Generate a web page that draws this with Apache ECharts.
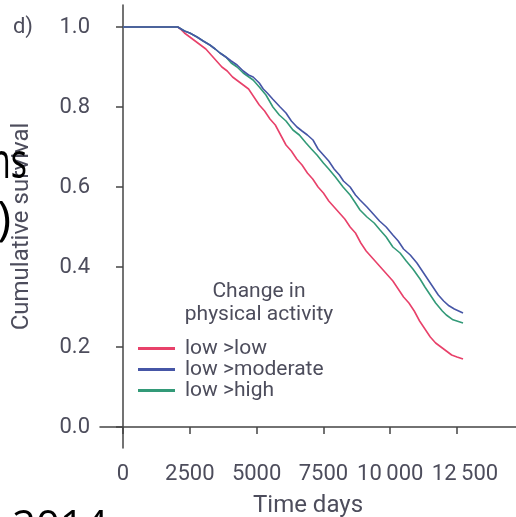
<!DOCTYPE html>
<html><head><meta charset="utf-8">
<script src="https://cdn.jsdelivr.net/npm/echarts@6/dist/echarts.min.js"></script>
<style>html,body{margin:0;padding:0;background:#fff}#c{width:516px;height:517px}</style>
</head><body><div id="c"></div>
<script>
const seriesNames = ['low >low', 'low >moderate', 'low >high'];
const xTicks = [0, 2500, 5000, 7500, 10000, 12500];
const xTickLabels = ['0', '2500', '5000', '7500', '10\u2009000', '12\u2009500'];
const yTicks = [0, 0.2, 0.4, 0.6, 0.8, 1.0];
const yTickLabels = ['0.0', '0.2', '0.4', '0.6', '0.8', '1.0'];

const lowLow = [
[0,1.0],[2050,1.0],[2150,0.995],[2300,0.985],[2500,0.975],[2700,0.965],[2900,0.955],[3100,0.945],
[3300,0.93],[3500,0.915],[3700,0.9],[3900,0.89],[4100,0.875],[4300,0.865],[4500,0.855],[4700,0.845],
[4900,0.825],[5100,0.805],[5300,0.79],[5500,0.77],[5700,0.755],[5900,0.73],[6100,0.705],[6300,0.69],
[6500,0.67],[6700,0.655],[6900,0.635],[7100,0.62],[7300,0.6],[7500,0.585],[7700,0.565],[7900,0.55],
[8100,0.535],[8300,0.52],[8500,0.5],[8700,0.485],[8900,0.46],[9100,0.44],[9300,0.425],[9500,0.41],
[9700,0.395],[9900,0.38],[10100,0.365],[10300,0.345],[10500,0.325],[10700,0.31],[10900,0.29],
[11100,0.265],[11300,0.245],[11500,0.225],[11700,0.21],[11900,0.2],[12100,0.19],[12300,0.18],
[12500,0.175],[12725,0.17]
];
const lowModerate = [
[0,1.0],[2050,1.0],[2300,0.99],[2500,0.985],[2770,0.975],[3000,0.965],[3250,0.955],[3450,0.945],
[3630,0.935],[3850,0.925],[4050,0.915],[4270,0.905],[4500,0.89],[4700,0.88],[4870,0.875],[5100,0.86],
[5250,0.845],[5400,0.835],[5600,0.82],[5880,0.80],[6100,0.785],[6300,0.765],[6510,0.75],[6700,0.74],
[6900,0.73],[7110,0.7175],[7300,0.695],[7500,0.68],[7700,0.665],[7900,0.645],[8100,0.63],[8250,0.615],
[8500,0.6],[8700,0.58],[8870,0.5675],[9130,0.55],[9400,0.53],[9600,0.515],[9850,0.5],[10100,0.48],
[10300,0.465],[10500,0.445],[10750,0.43],[11000,0.41],[11200,0.39],[11400,0.37],[11600,0.35],
[11800,0.33],[12000,0.315],[12200,0.303],[12400,0.295],[12725,0.285]
];
const lowHigh = [
[0,1.0],[2050,1.0],[2300,0.99],[2500,0.985],[2770,0.975],[3000,0.965],[3250,0.955],[3450,0.945],
[3630,0.935],[3850,0.925],[4050,0.91],[4270,0.9],[4500,0.885],[4870,0.8675],[5100,0.85],[5350,0.83],
[5610,0.80],[5850,0.78],[6100,0.765],[6360,0.7425],[6600,0.73],[6850,0.71],[7050,0.695],[7260,0.68],
[7500,0.66],[7700,0.645],[7950,0.625],[8235,0.60],[8500,0.58],[8700,0.56],[8870,0.5425],[9130,0.525],
[9400,0.51],[9620,0.4925],[9850,0.475],[10100,0.45],[10370,0.435],[10600,0.415],[10850,0.395],
[11117,0.37],[11300,0.35],[11500,0.33],[11700,0.31],[11950,0.29],[12100,0.28],[12350,0.268],[12725,0.26]
];

const FONT = "Roboto, sans-serif";
const TXT = '#4d4d5c';
const colors = {red:'#e8416a', blue:'#4656a6', green:'#339a78'};
const SLIDE = '"Open Sans", sans-serif';

const chart = echarts.init(document.getElementById('c'), null, {renderer:'canvas'});
chart.setOption({
  animation:false,
  backgroundColor:'#fff',
  textStyle:{fontFamily:FONT},
  grid:{left:100, right:0, top:5, bottom:69, containLabel:false, outerBoundsMode:'none'},
  xAxis:{
    type:'value', min:-861, max:14708,
    name:'Time days', nameLocation:'middle', nameGap:46,
    nameTextStyle:{color:TXT, fontSize:24, fontFamily:FONT},
    axisLine:{show:true, lineStyle:{color:'#444', width:1.5}},
    axisTick:{show:true, length:7, customValues:xTicks, lineStyle:{color:'#444', width:1.5}},
    axisLabel:{show:true, customValues:xTicks, margin:15, color:TXT, fontSize:22, fontFamily:FONT,
      rich:{s:{color:TXT, fontSize:22, fontFamily:FONT, padding:[0,0,0,16]}},
      formatter:function(v){const i=xTicks.indexOf(v); if(i<0) return ''; return i===xTicks.length-1 ? '{s|'+xTickLabels[i]+'}' : xTickLabels[i];}},
    splitLine:{show:false}
  },
  yAxis:{
    type:'value', min:-0.0525, max:1.055,
    name:'Cumulative survival', nameLocation:'middle', nameGap:66, nameRotate:90,
    nameTextStyle:{color:TXT, fontSize:24, fontFamily:FONT},
    axisLine:{show:true, lineStyle:{color:'#444', width:1.5}},
    axisTick:{show:true, length:7, customValues:yTicks, lineStyle:{color:'#444', width:1.5}},
    axisLabel:{show:true, customValues:yTicks, margin:10, color:TXT, fontSize:22, fontFamily:FONT,
      formatter:function(v){let i=-1; yTicks.forEach((t,k)=>{if(Math.abs(t-v)<1e-6)i=k;}); return i>=0?yTickLabels[i]:'';}},
    splitLine:{show:false}
  },
  legend:{
    orient:'vertical', left:138, top:338, padding:0, itemWidth:37, itemHeight:3, itemGap:0, icon:'rect',
    data:seriesNames,
    textStyle:{color:TXT, fontSize:21, lineHeight:19.5, fontFamily:FONT, padding:[0,0,0,5]}
  },
  series:[
    {name:seriesNames[0], type:'line', data:lowLow, showSymbol:false, color:colors.red, lineStyle:{width:1.6, color:colors.red}, z:3},
    {name:seriesNames[2], type:'line', data:lowHigh, showSymbol:false, color:colors.green, lineStyle:{width:1.6, color:colors.green}, z:3},
    {name:seriesNames[1], type:'line', data:lowModerate, showSymbol:false, color:colors.blue, lineStyle:{width:1.6, color:colors.blue}, z:4}
  ],
  graphic:[
    {type:'text', x:23, y:27, style:{text:'d)', fill:TXT, font:'22px '+FONT, align:'center', verticalAlign:'middle'}},
    {type:'text', x:259, y:292, style:{text:'Change in', fill:TXT, font:'21px '+FONT, align:'center', verticalAlign:'middle'}},
    {type:'text', x:259, y:315, style:{text:'physical activity', fill:TXT, font:'21px '+FONT, align:'center', verticalAlign:'middle'}},
    {type:'text', x:27, y:139, scaleX:0.68, z:100, style:{text:'ns', fill:'#000', font:'50px '+SLIDE, align:'right', verticalAlign:'top'}},
    {type:'text', x:-3, y:197, z:100, style:{text:')', fill:'#000', font:'48px '+SLIDE, align:'left', verticalAlign:'top'}},
    {type:'text', x:12, y:507, z:100, style:{text:'2014', fill:'#000', font:'42px '+SLIDE, align:'left', verticalAlign:'top'}}
  ]
});
</script></body></html>
